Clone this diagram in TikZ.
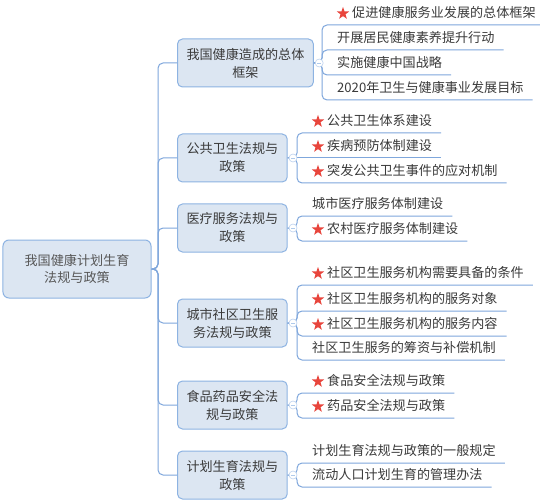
\documentclass[tikz,border=0pt]{standalone}
\usepackage{fontspec}
\usepackage{xcolor}
\usepackage{tikz}
\usetikzlibrary{positioning, shapes.geometric}
\newfontfamily\cjk{Noto Sans CJK SC}
\definecolor{boxfill}{HTML}{DCE6F2}
\definecolor{boxline}{HTML}{8DB3E2}
\definecolor{linkblue}{HTML}{7FA7DC}
\definecolor{txtgray}{HTML}{3A3A3A}
\definecolor{starred}{HTML}{E8453C}

\begin{document}
\begin{tikzpicture}[x=1bp, y=-1bp,
    rootbox/.style={rectangle, draw=boxline, fill=boxfill, rounded corners=6bp, minimum width=148bp, minimum height=58bp, align=center, font=\cjk\fontsize{13.1bp}{17.5bp}\selectfont, text=txtgray!85, line width=1bp},
    topic/.style={rectangle, draw=boxline, fill=boxfill, rounded corners=5bp, minimum height=48bp, inner xsep=9bp, align=center, anchor=west, font=\cjk\fontsize{13.1bp}{18bp}\selectfont, text=txtgray, line width=1bp},
    leafbase/.style={anchor=south west, inner xsep=9bp, inner ysep=5bp, text height=9.5bp, text depth=2bp, font=\cjk\fontsize{13.1bp}{15bp}\selectfont, text=txtgray},
    leaf/.style={leafbase, execute at begin node={\hspace*{6bp}}},
    starleaf/.style={leafbase, execute at begin node={\hspace*{21bp}}},
    starmark/.style={star, star points=5, star point ratio=2.5, fill=starred, draw=none, minimum size=13bp, inner sep=0pt},
    link/.style={draw=linkblue, line width=1bp, rounded corners=5bp},
    toggle/.style={circle, draw=boxline!60, fill=white, minimum size=8bp, inner sep=0pt, line width=0.6bp,
        path picture={\draw[boxline!70, line width=0.6bp] ([xshift=-2bp]path picture bounding box.center) -- ([xshift=2bp]path picture bounding box.center);}}
]
    \path[use as bounding box, fill=white] (0,0) rectangle (540,504);

    % Root
    \node[rootbox] (root) at (77,269) {我国健康计划生育\\法规与政策};
    \coordinate (trunk) at (158,269);

    % Main topics
    \node[topic] (b1) at (177,63) {我国健康造成的总体\\框架};
    \node[topic] (b2) at (177,158) {公共卫生法规与\\政策};
    \node[topic] (b3) at (177,228) {医疗服务法规与\\政策};
    \node[topic] (b4) at (177,323) {城市社区卫生服\\务法规与政策};
    \node[topic] (b5) at (177,405) {食品药品安全法\\规与政策};
    \node[topic] (b6) at (177,475) {计划生育法规与\\政策};

    \draw[link] (root.east) -- (trunk) -- (trunk |- b1.west) -- (b1.west);
    \draw[link] (root.east) -- (trunk) -- (trunk |- b2.west) -- (b2.west);
    \draw[link] (root.east) -- (trunk) -- (trunk |- b3.west) -- (b3.west);
    \draw[link] (root.east) -- (trunk) -- (trunk |- b4.west) -- (b4.west);
    \draw[link] (root.east) -- (trunk) -- (trunk |- b5.west) -- (b5.west);
    \draw[link] (root.east) -- (trunk) -- (trunk |- b6.west) -- (b6.west);

    % Subtopics - framework
    \coordinate (k1) at (322,63);
    \node[starleaf] (l11) at (322,25) {促进健康服务业发展的总体框架};
    \node[leaf] (l12) at (322,50) {开展居民健康素养提升行动};
    \node[leaf] (l13) at (322,75) {实施健康中国战略};
    \node[leaf] (l14) at (322,100) {2020年卫生与健康事业发展目标};
    \draw[link] (b1.east) -- (k1) -- (l11.south west) -- (l11.south east);
    \draw[link] (b1.east) -- (k1) -- (l12.south west) -- (l12.south east);
    \draw[link] (b1.east) -- (k1) -- (l13.south west) -- (l13.south east);
    \draw[link] (b1.east) -- (k1) -- (l14.south west) -- (l14.south east);

    % Subtopics - public health
    \coordinate (k2) at (297,158);
    \node[starleaf] (l21) at (297,133) {公共卫生体系建设};
    \node[starleaf] (l22) at (297,158) {疾病预防体制建设};
    \node[starleaf] (l23) at (297,183) {突发公共卫生事件的应对机制};
    \draw[link] (b2.east) -- (k2) -- (l21.south west) -- (l21.south east);
    \draw[link] (b2.east) -- (l22.south east);
    \draw[link] (b2.east) -- (k2) -- (l23.south west) -- (l23.south east);

    % Subtopics - medical service
    \coordinate (k3) at (297,228);
    \node[leaf] (l31) at (297,216) {城市医疗服务体制建设};
    \node[starleaf] (l32) at (297,241) {农村医疗服务体制建设};
    \draw[link] (b3.east) -- (k3) -- (l31.south west) -- (l31.south east);
    \draw[link] (b3.east) -- (k3) -- (l32.south west) -- (l32.south east);

    % Subtopics - community health
    \coordinate (k4) at (297,323);
    \node[starleaf] (l41) at (297,285) {社区卫生服务机构需要具备的条件};
    \node[starleaf] (l42) at (297,311) {社区卫生服务机构的服务对象};
    \node[starleaf] (l43) at (297,336) {社区卫生服务机构的服务内容};
    \node[leaf] (l44) at (297,360) {社区卫生服务的筹资与补偿机制};
    \draw[link] (b4.east) -- (k4) -- (l41.south west) -- (l41.south east);
    \draw[link] (b4.east) -- (k4) -- (l42.south west) -- (l42.south east);
    \draw[link] (b4.east) -- (k4) -- (l43.south west) -- (l43.south east);
    \draw[link] (b4.east) -- (k4) -- (l44.south west) -- (l44.south east);

    % Subtopics - food and drugs
    \coordinate (k5) at (297,405);
    \node[starleaf] (l51) at (297,393) {食品安全法规与政策};
    \node[starleaf] (l52) at (297,418) {药品安全法规与政策};
    \draw[link] (b5.east) -- (k5) -- (l51.south west) -- (l51.south east);
    \draw[link] (b5.east) -- (k5) -- (l52.south west) -- (l52.south east);

    % Subtopics - family planning
    \coordinate (k6) at (297,475);
    \node[leaf] (l61) at (297,463) {计划生育法规与政策的一般规定};
    \node[leaf] (l62) at (297,487) {流动人口计划生育的管理办法};
    \draw[link] (b6.east) -- (k6) -- (l61.south west) -- (l61.south east);
    \draw[link] (b6.east) -- (k6) -- (l62.south west) -- (l62.south east);

    % Star marks
    \node[starmark] (s11) at ([xshift=21bp, yshift=11.5bp]l11.south west) {};
    \node[starmark] (s21) at ([xshift=21bp, yshift=11.5bp]l21.south west) {};
    \node[starmark] (s22) at ([xshift=21bp, yshift=11.5bp]l22.south west) {};
    \node[starmark] (s23) at ([xshift=21bp, yshift=11.5bp]l23.south west) {};
    \node[starmark] (s32) at ([xshift=21bp, yshift=11.5bp]l32.south west) {};
    \node[starmark] (s41) at ([xshift=21bp, yshift=11.5bp]l41.south west) {};
    \node[starmark] (s42) at ([xshift=21bp, yshift=11.5bp]l42.south west) {};
    \node[starmark] (s43) at ([xshift=21bp, yshift=11.5bp]l43.south west) {};
    \node[starmark] (s51) at ([xshift=21bp, yshift=11.5bp]l51.south west) {};
    \node[starmark] (s52) at ([xshift=21bp, yshift=11.5bp]l52.south west) {};

    % Collapse toggles
    \node[toggle, right=1bp of b1] (t1) {};
    \node[toggle, right=1bp of b2] (t2) {};
    \node[toggle, right=1bp of b3] (t3) {};
    \node[toggle, right=1bp of b4] (t4) {};
    \node[toggle, right=1bp of b5] (t5) {};
    \node[toggle, right=1bp of b6] (t6) {};
\end{tikzpicture}
\end{document}
